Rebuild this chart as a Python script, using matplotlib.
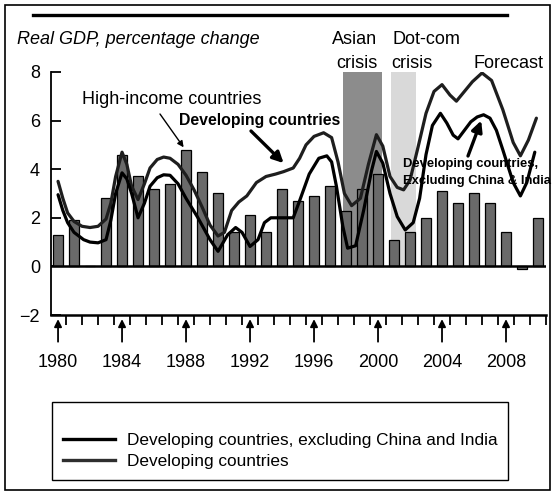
import matplotlib
matplotlib.use("Agg")
import matplotlib.pyplot as plt
from matplotlib.patches import Rectangle
from matplotlib.lines import Line2D

plt.rcParams['font.family'] = ['Liberation Sans', 'DejaVu Sans']

# ---- data -------------------------------------------------------------
years = list(range(1980, 2011))
high_income = [1.3, 1.9, 0.0, 2.8, 4.6, 3.7, 3.2, 3.4, 4.8, 3.9, 3.0, 1.4, 2.1,
               1.4, 3.2, 2.7, 2.9, 3.3, 2.3, 3.2, 3.8, 1.1, 1.4, 2.0, 3.1, 2.6,
               3.0, 2.6, 1.4, -0.1, 2.0]

dev_x = [1980.0, 1980.3, 1980.6, 1981.0, 1981.5, 1982.0, 1982.5, 1983.0, 1983.3,
         1983.6, 1984.0, 1984.3, 1984.6, 1985.0, 1985.4, 1985.75, 1986.2, 1986.6,
         1987.0, 1987.5, 1988.0, 1988.5, 1989.0, 1989.5, 1990.0, 1990.4, 1990.85,
         1991.3, 1991.8, 1992.4, 1993.0, 1993.6, 1994.1, 1994.7, 1995.1, 1995.5,
         1996.0, 1996.6, 1997.1, 1997.5, 1997.9, 1998.35, 1998.9, 1999.4, 1999.9,
         2000.3, 2000.75, 2001.2, 2001.6, 2002.0, 2002.5, 2003.0, 2003.5, 2004.0,
         2004.5, 2004.9, 2005.4, 2005.9, 2006.5, 2007.1, 2007.8, 2008.45, 2008.9,
         2009.4, 2009.9]
dev_y = [3.5, 2.8, 2.2, 1.85, 1.65, 1.6, 1.65, 1.95, 2.6,
         3.7, 4.7, 4.2, 3.3, 2.75, 3.4, 4.05, 4.4, 4.5,
         4.45, 4.2, 3.75, 3.15, 2.45, 1.7, 1.25, 1.4, 2.3,
         2.65, 2.9, 3.45, 3.7, 3.8, 3.9, 4.05, 4.45, 5.0,
         5.35, 5.5, 5.3, 4.3, 3.0, 2.5, 2.8, 4.2, 5.42,
         4.95, 3.7, 3.25, 3.15, 3.55, 4.9, 6.3, 7.2, 7.48,
         7.05, 6.8, 7.2, 7.6, 7.96, 7.65, 6.45, 5.1, 4.55,
         5.2, 6.1]

excl_x = [1980.0, 1980.3, 1980.6, 1981.0, 1981.6, 1982.0, 1982.5, 1983.0, 1983.3,
          1983.6, 1984.0, 1984.3, 1984.6, 1985.0, 1985.4, 1985.75, 1986.2, 1986.6,
          1987.0, 1987.5, 1988.0, 1988.7, 1989.5, 1990.0, 1990.6, 1991.1, 1991.5,
          1992.0, 1992.5, 1992.9, 1993.3, 1994.0, 1994.7, 1995.1, 1995.7, 1996.3,
          1996.8, 1997.1, 1997.4, 1997.8, 1998.1, 1998.6, 1999.1, 1999.6, 1999.9,
          2000.3, 2000.75, 2001.2, 2001.7, 2002.2, 2002.6, 2003.0, 2003.4, 2003.9,
          2004.3, 2004.7, 2005.0, 2005.4, 2005.8, 2006.2, 2006.6, 2007.0, 2007.4,
          2007.8, 2008.45, 2008.9, 2009.3, 2009.8]
excl_y = [2.95, 2.3, 1.8, 1.4, 1.1, 1.0, 0.97, 1.1, 1.9,
          3.0, 3.85, 3.6, 3.0, 2.0, 2.6, 3.3, 3.65, 3.77,
          3.75, 3.4, 2.8, 2.05, 1.1, 0.62, 1.3, 1.6, 1.4,
          0.82, 1.1, 1.8, 2.0, 2.0, 2.0, 2.7, 3.8, 4.45,
          4.55, 4.3, 3.3, 1.65, 0.75, 0.85, 2.3, 3.95, 4.73,
          4.25, 3.0, 2.05, 1.5, 1.8, 2.8, 4.6, 5.8, 6.3,
          5.9, 5.4, 5.25, 5.6, 5.95, 6.15, 6.24, 6.1, 5.6,
          4.8, 3.45, 2.9, 3.45, 4.7]

label_years = [1980, 1984, 1988, 1992, 1996, 2000, 2004, 2008]
asian_crisis = (1997.83, 2000.23)
dotcom_crisis = (2000.8, 2002.4)

# ---- figure -----------------------------------------------------------
W, H = 554, 493
fig = plt.figure(figsize=(W / 100, H / 100), dpi=100)


def fp(x, y):
    """pixel position (from top-left) -> figure fraction"""
    return (x / W, 1 - y / H)


ax = fig.add_axes([51 / W, (H - 315) / H, (546 - 51) / W, (315 - 72) / H])
ax.set_xlim(1979.56, 2010.5)
ax.set_ylim(-2, 8)

# crisis bands
ax.axvspan(*asian_crisis, ymin=0.2, ymax=1.0, color='#8c8c8c', lw=0, zorder=1)
ax.axvspan(*dotcom_crisis, ymin=0.2, ymax=1.0, color='#d9d9d9', lw=0, zorder=1)

# high-income bars
ax.bar(years, high_income, width=0.62, color='#6a6a6a', edgecolor='black',
       linewidth=0.9, zorder=2)

ax.axhline(0, color='black', lw=1.8, zorder=4)

ax.plot(dev_x, dev_y, color='#1e1e1e', lw=2.3, zorder=3,
        solid_joinstyle='round', solid_capstyle='round')
ax.plot(excl_x, excl_y, color='black', lw=2.3, zorder=3,
        solid_joinstyle='round', solid_capstyle='round')

# axes styling
for s in ('top', 'right'):
    ax.spines[s].set_visible(False)
ax.spines['left'].set_linewidth(1.3)
ax.spines['bottom'].set_linewidth(1.8)
ax.set_yticks([-2, 0, 2, 4, 6, 8])
ax.set_yticklabels(['\u22122', '0', '2', '4', '6', '8'])
ax.tick_params(axis='y', direction='in', length=7, width=1.3, pad=8,
               labelsize=13)
ax.set_xticks(label_years)
ax.set_xticklabels([str(y) for y in label_years])
ax.tick_params(axis='x', which='major', length=0, pad=28, labelsize=13)
ax.set_xticks([y + 0.5 for y in years], minor=True)
ax.tick_params(axis='x', which='minor', direction='out', length=7, width=1.3)

# arrows under labelled years
xt = ax.get_xaxis_transform()
for yr in label_years:
    ax.annotate('', xy=(yr, -0.017), xycoords=xt, xytext=(yr, -0.11),
                textcoords=xt,
                arrowprops=dict(arrowstyle='-|>', color='black', lw=1.3,
                                mutation_scale=11, shrinkA=0, shrinkB=0),
                annotation_clip=False)

# texts
fig.text(*fp(17, 43.5), 'Real GDP, percentage change', style='italic',
         fontsize=13, va='baseline', ha='left')
fig.text(*fp(354.5, 43.5), 'Asian', fontsize=13, ha='center', va='baseline')
fig.text(*fp(357, 68), 'crisis', fontsize=13, ha='center', va='baseline')
fig.text(*fp(392, 43.5), 'Dot-com', fontsize=13, ha='left', va='baseline')
fig.text(*fp(391, 68), 'crisis', fontsize=13, ha='left', va='baseline')
fig.text(*fp(474, 68), 'Forecast', fontsize=13, ha='left', va='baseline')

fig.text(*fp(82, 103.5), 'High-income countries', fontsize=13,
         ha='left', va='baseline')
ax.annotate('', xy=(1987.85, 4.9), xycoords='data',
            xytext=fp(160, 114), textcoords='figure fraction',
            arrowprops=dict(arrowstyle='-|>', color='black', lw=1.0,
                            mutation_scale=9, shrinkA=0, shrinkB=0))

fig.text(*fp(179, 125), 'Developing countries', fontsize=11.4,
         fontweight='bold', ha='left', va='baseline')
ax.annotate('', xy=(1994.1, 4.25), xycoords='data',
            xytext=fp(251, 131), textcoords='figure fraction',
            arrowprops=dict(arrowstyle='-|>', color='black', lw=2.4,
                            mutation_scale=16, shrinkA=0, shrinkB=0))

fig.text(*fp(403, 167), 'Developing countries,', fontsize=9.4,
         fontweight='bold', ha='left', va='baseline')
fig.text(*fp(403, 184), 'Excluding China & India', fontsize=9.4,
         fontweight='bold', ha='left', va='baseline')
ax.annotate('', xy=(2006.45, 6.0), xycoords='data',
            xytext=fp(468, 156), textcoords='figure fraction',
            arrowprops=dict(arrowstyle='-|>', color='black', lw=2.4,
                            mutation_scale=16, shrinkA=0, shrinkB=0))

# legend: entries without frame, box drawn separately
handles = [Line2D([], [], color='black', lw=2.4),
           Line2D([], [], color='#2e2e2e', lw=2.4)]
labels = ['Developing countries, excluding China and India',
          'Developing countries']
fig.legend(handles, labels, loc='upper left',
           bbox_to_anchor=fp(63, 433), fontsize=12.4, frameon=False,
           handlelength=3.0, handletextpad=0.7, labelspacing=0.35,
           borderpad=0, borderaxespad=0)
fig.add_artist(Rectangle(fp(52, 480), 456 / W, 78 / H, fill=False,
                         edgecolor='black', lw=1.0,
                         transform=fig.transFigure))

# top rule and outer frame
fig.add_artist(Line2D([33 / W, 507 / W], [1 - 15 / H, 1 - 15 / H],
                      color='black', lw=2.4, transform=fig.transFigure))
fig.add_artist(Rectangle(fp(5, 490), 545 / W, 485 / H, fill=False,
                         edgecolor='black', lw=1.2,
                         transform=fig.transFigure))

fig.savefig('out.png', dpi=100)
